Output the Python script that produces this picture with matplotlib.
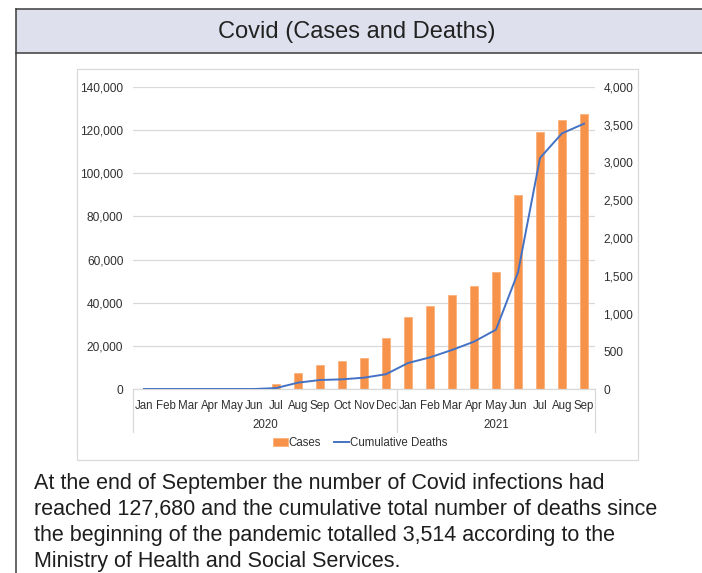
import matplotlib
matplotlib.use("Agg")
import matplotlib.pyplot as plt
from matplotlib.patches import Rectangle
from matplotlib.lines import Line2D
from matplotlib.ticker import FuncFormatter, MultipleLocator
import matplotlib.transforms as mtransforms

plt.rcParams["font.family"] = ["Liberation Sans", "DejaVu Sans"]

# Monthly data, Jan 2020 - Sep 2021
months = ["Jan", "Feb", "Mar", "Apr", "May", "Jun", "Jul", "Aug", "Sep", "Oct", "Nov", "Dec",
          "Jan", "Feb", "Mar", "Apr", "May", "Jun", "Jul", "Aug", "Sep"]
years = ["2020", "2021"]
months_per_year = [12, 9]
cases = [0, 0, 0, 0, 0, 0, 2100, 7400, 11100, 13000, 14400, 23600,
         33400, 38400, 43700, 47800, 54200, 90000, 119000, 124800, 127680]
deaths = [0, 0, 0, 0, 0, 0, 12, 84, 119, 128, 150, 196,
          344, 419, 517, 627, 786, 1545, 3060, 3386, 3514]

title = "Covid (Cases and Deaths)"
caption = ["At the end of September the number of Covid infections had",
           "reached 127,680 and the cumulative total number of deaths since",
           "the beginning of the pandemic totalled 3,514 according to the",
           "Ministry of Health and Social Services."]

W, H = 702, 573
fig = plt.figure(figsize=(W / 100, H / 100), dpi=100)

# Page frame drawn in pixel units
bg = fig.add_axes([0, 0, 1, 1])
bg.set_xlim(0, W)
bg.set_ylim(H, 0)
bg.axis("off")
dark = "#3c3c3c"
bg.add_patch(Rectangle((16, 9), W - 16, 44, facecolor="#dfe0ee", edgecolor="none"))
bg.plot([16, W], [9, 9], color=dark, lw=1.1)
bg.plot([16, W], [53, 53], color=dark, lw=1.1)
bg.plot([16, 16], [9, H], color=dark, lw=1.1)
bg.add_patch(Rectangle((77, 69), 561, 391, facecolor="white", edgecolor="#d9d9d9", lw=0.9))
bg.text(357, 32, title, ha="center", va="center", fontsize=17, color="#222222")
for i, line in enumerate(caption):
    bg.text(34, 484 + i * 25.8, line, ha="left", va="center", fontsize=15.5, color="#1e1e1e")

# Chart
L, R, T, B = 133, 595, 87, 389
ax = fig.add_axes([L / W, 1 - B / H, (R - L) / W, (B - T) / H])
x = list(range(len(months)))
grid_c = "#d9d9d9"
text_c = "#303030"
tick_fs = 8.3

ax.bar(x, cases, width=0.37, color="#f6924a", edgecolor="#fab27a", lw=0.6, zorder=2, label="Cases")
ax.set_xlim(-0.5, len(months) - 0.5)
ax.set_ylim(0, 140000)
ax.yaxis.set_major_locator(MultipleLocator(20000))
ax.yaxis.set_major_formatter(FuncFormatter(lambda v, p: f"{int(v):,}"))
ax.grid(axis="y", color=grid_c, lw=0.9, zorder=0)
ax.set_axisbelow(True)
for s in ["top", "left", "right"]:
    ax.spines[s].set_visible(False)
ax.spines["bottom"].set_color(grid_c)
ax.spines["bottom"].set_linewidth(0.9)
ax.set_xticks(x)
ax.set_xticklabels(months)
ax.tick_params(axis="x", length=0, pad=8, labelsize=tick_fs, labelcolor=text_c)
ax.tick_params(axis="y", length=0, pad=7, labelsize=8.6, labelcolor=text_c)

ax2 = ax.twinx()
ax2.plot(x, deaths, color="#4472c4", lw=1.4, zorder=3, label="Cumulative Deaths")
ax2.set_ylim(0, 4000)
ax2.yaxis.set_major_locator(MultipleLocator(500))
ax2.yaxis.set_major_formatter(FuncFormatter(lambda v, p: f"{int(v):,}"))
for s in ["top", "left", "right", "bottom"]:
    ax2.spines[s].set_visible(False)
ax2.tick_params(axis="y", length=0, pad=6, labelsize=8.6, labelcolor=text_c)

# Year grouping below the month labels
trans = mtransforms.blended_transform_factory(ax.transData, ax.transAxes)
axes_h = B - T
edges = [-0.5]
for n in months_per_year:
    edges.append(edges[-1] + n)
for e in edges:
    ax.add_line(Line2D([e, e], [0, -(432 - B) / axes_h], transform=trans, color=grid_c,
                       lw=0.9, clip_on=False))
for yr, a, b in zip(years, edges[:-1], edges[1:]):
    ax.text((a + b) / 2, -(425 - B) / axes_h, yr, transform=trans, ha="center", va="center",
            fontsize=tick_fs, color=text_c)

h1, l1 = ax.get_legend_handles_labels()
h2, l2 = ax2.get_legend_handles_labels()
fig.legend(h1 + h2, l1 + l2, loc="center", bbox_to_anchor=(360 / W, 1 - 443 / H), ncol=2,
           frameon=False, fontsize=tick_fs, labelcolor=text_c, handlelength=1.3,
           handletextpad=0.1, columnspacing=1.1, borderpad=0)

fig.savefig("out.png", dpi=100)
